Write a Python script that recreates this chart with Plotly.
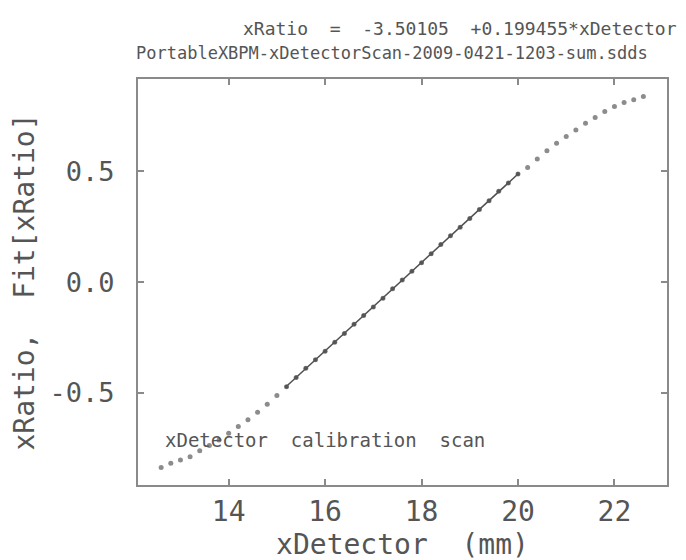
import plotly.graph_objects as go

# Scan data (xDetector in mm, xRatio)
x_detector = [12.6, 12.8, 13.0, 13.2, 13.4, 13.6, 13.8, 14.0, 14.2, 14.4,
              14.6, 14.8, 15.0, 15.2, 15.4, 15.6, 15.8, 16.0, 16.2, 16.4,
              16.6, 16.8, 17.0, 17.2, 17.4, 17.6, 17.8, 18.0, 18.2, 18.4,
              18.6, 18.8, 19.0, 19.2, 19.4, 19.6, 19.8, 20.0, 20.2, 20.4,
              20.6, 20.8, 21.0, 21.2, 21.4, 21.6, 21.8, 22.0, 22.2, 22.4,
              22.6]
x_ratio = [-0.836, -0.817, -0.802, -0.787, -0.761, -0.737, -0.712, -0.681, -0.651, -0.621,
           -0.587, -0.551, -0.511, -0.472, -0.430, -0.388, -0.350, -0.311, -0.271, -0.231,
           -0.190, -0.150, -0.112, -0.072, -0.030, 0.010, 0.050, 0.088, 0.128, 0.170,
           0.210, 0.248, 0.288, 0.328, 0.368, 0.410, 0.448, 0.488, 0.518, 0.556,
           0.593, 0.627, 0.657, 0.687, 0.717, 0.743, 0.770, 0.793, 0.811, 0.823,
           0.838]

# Linear fit (from the title)
fit_intercept = -3.50105
fit_slope = 0.199455
fit_x = [15.2, 20.0]
fit_y = [fit_intercept + fit_slope * v for v in fit_x]

x_ticks = [14, 16, 18, 20, 22]
y_ticks = [-0.5, 0.0, 0.5]
y_tick_labels = ["-0.5", "0.0", "0.5"]

FONT = "DejaVu Sans Mono"
TXT = "#555555"
AX = "#8a8a8a"

fig = go.Figure()
fig.add_trace(go.Scatter(x=x_detector, y=x_ratio, mode="markers",
                         marker=dict(color="#8c8c8c", size=5, symbol="circle"),
                         showlegend=False))
fig.add_trace(go.Scatter(x=fit_x, y=fit_y, mode="lines",
                         line=dict(color="#505050", width=1.5),
                         showlegend=False))
fig.add_trace(go.Scatter(x=x_detector[13:38], y=x_ratio[13:38], mode="markers",
                         marker=dict(color="#555555", size=4, symbol="circle"),
                         showlegend=False))

fig.update_layout(
    width=686, height=560,
    margin=dict(l=130, r=27, t=71, b=83),
    plot_bgcolor="white", paper_bgcolor="white",
    font=dict(family=FONT, color=TXT),
    xaxis=dict(range=[12.12, 23.09], tickvals=x_ticks, ticks="inside", ticklen=6,
               tickcolor=AX, tickwidth=1.5, showline=True, linecolor=AX, linewidth=2,
               mirror="ticks", showgrid=False, zeroline=False, automargin=False,
               tickfont=dict(size=28, family=FONT, color=TXT),
               title=dict(text="xDetector  (mm)", font=dict(size=28, family=FONT, color=TXT),
                          standoff=0)),
    yaxis=dict(range=[-0.915, 0.917], tickvals=y_ticks, ticktext=y_tick_labels,
               ticks="inside", ticklen=6, tickcolor=AX, tickwidth=1.5,
               showline=True, linecolor=AX, linewidth=2, mirror="ticks",
               showgrid=False, zeroline=False, ticklabelstandoff=16, automargin=False,
               tickfont=dict(size=27, family=FONT, color=TXT),
               title=dict(text="xRatio,  Fit[xRatio]", font=dict(size=28, family=FONT, color=TXT),
                          standoff=10)),
    annotations=[
        dict(text="xRatio  =  -3.50105  +0.199455*xDetector", xref="paper", yref="paper",
             x=1.022, y=1.125, xanchor="right", yanchor="middle", showarrow=False,
             font=dict(size=18, family=FONT, color=TXT)),
        dict(text="PortableXBPM-xDetectorScan-2009-0421-1203-sum.sdds", xref="paper", yref="paper",
             x=0.48, y=1.064, xanchor="center", yanchor="middle", showarrow=False,
             font=dict(size=17, family=FONT, color=TXT)),
        dict(text="xDetector  calibration  scan", xref="x", yref="y",
             x=12.64, y=-0.713, xanchor="left", yanchor="middle", showarrow=False,
             font=dict(size=19, family=FONT, color=TXT)),
    ],
)

fig.write_html("out.html")
